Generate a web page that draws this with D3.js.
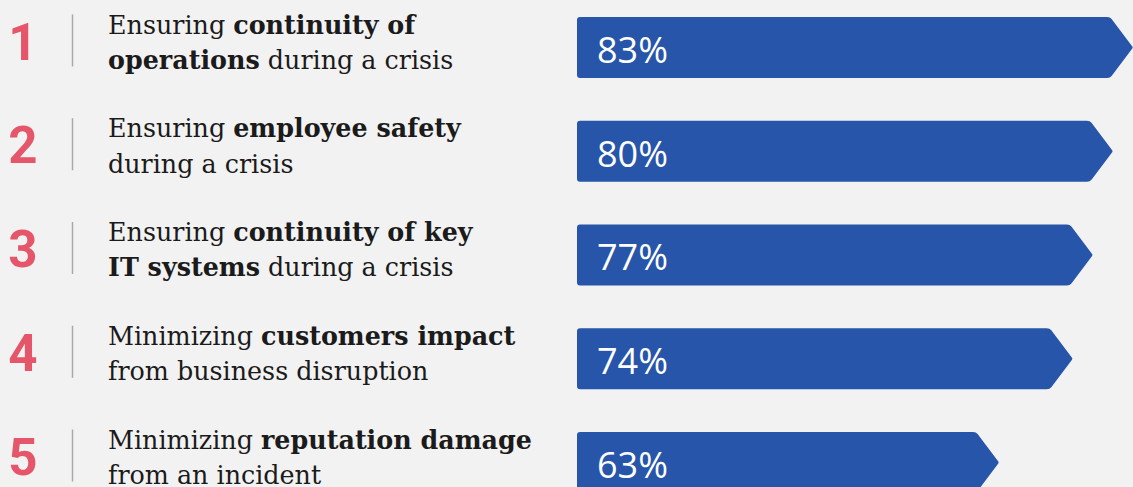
<!DOCTYPE html>
<html>
<head>
<meta charset="utf-8">
<script src="https://cdn.jsdelivr.net/npm/d3@7"></script>
<style>
  html, body { margin: 0; padding: 0; background: #f2f2f2; overflow: hidden; }
</style>
</head>
<body>
<div id="chart"></div>
<script>
const ranks = ["1", "2", "3", "4", "5"];
const labelLines = [
    ["Ensuring **continuity of**", "**operations** during a crisis"],
    ["Ensuring **employee safety**", "during a crisis"],
    ["Ensuring **continuity of key**", "**IT systems** during a crisis"],
    ["Minimizing **customers impact**", "from business disruption"],
    ["Minimizing **reputation damage**", "from an incident"]
];
const values = [83, 80, 77, 74, 63];

const width = 1133;
const height = 487;
const tip = 23;
const barColor = "#2655a9";
const rankColor = "#e5566a";

const svg = d3.select("#chart")
    .append("svg")
    .attr("width", width)
    .attr("height", height);

svg.append("rect")
    .attr("width", width)
    .attr("height", height)
    .attr("fill", "#f2f2f2");

const xScale = d3.scaleLinear()
    .domain([0, 100])
    .range([577, 1247]);

const yScale = d3.scaleBand()
    .domain(ranks)
    .range([17, 493])
    .paddingInner(0.412)
    .paddingOuter(0);

// arrow shaped bar, the point sits on the value
function arrowPath(v) {
    const x0 = xScale(0);
    const x1 = xScale(v);
    const h = yScale.bandwidth();
    const r = 3;
    const p = d3.path();
    p.moveTo(x0 + r, 0);
    p.lineTo(x1 - tip - r, 0);
    p.quadraticCurveTo(x1 - tip, 0, x1 - tip + 1.5, 2);
    p.lineTo(x1 - 1, h / 2 - 1.2);
    p.quadraticCurveTo(x1, h / 2, x1 - 1, h / 2 + 1.2);
    p.lineTo(x1 - tip + 1.5, h - 2);
    p.quadraticCurveTo(x1 - tip, h, x1 - tip - r, h);
    p.lineTo(x0 + r, h);
    p.quadraticCurveTo(x0, h, x0, h - r);
    p.lineTo(x0, r);
    p.quadraticCurveTo(x0, 0, x0 + r, 0);
    p.closePath();
    return p.toString();
}

const rows = svg.selectAll(".row")
    .data(ranks)
    .join("g")
    .attr("class", "row")
    .attr("transform", d => `translate(0,${yScale(d)})`);

rows.append("path")
    .attr("d", (d, i) => arrowPath(values[i]))
    .attr("fill", barColor);

rows.append("text")
    .attr("x", xScale(0) + 20)
    .attr("y", 46)
    .attr("fill", "#fff")
    .style("font-family", "'Open Sans', 'Noto Sans', sans-serif")
    .style("font-size", "36px")
    .text((d, i) => values[i] + "%");

// label block sits a bit above the bar centre
const mid = yScale.bandwidth() / 2 - 7;

rows.append("text")
    .attr("x", 23)
    .attr("y", mid + 19)
    .attr("text-anchor", "middle")
    .attr("fill", rankColor)
    .style("font-family", "Roboto, sans-serif")
    .style("font-weight", "700")
    .style("font-size", "51px")
    .text(d => d);

rows.append("line")
    .attr("x1", 72.5)
    .attr("x2", 72.5)
    .attr("y1", mid - 26)
    .attr("y2", mid + 26)
    .attr("stroke", "#a8a8a8")
    .attr("stroke-width", 1.5);

rows.each(function (d, i) {
    const t = d3.select(this).append("text")
        .attr("fill", "#1b1b1b")
        .style("font-family", "'DejaVu Serif', serif")
        .style("font-size", "25.4px");
    labelLines[i].forEach((line, li) => {
        const parts = line.split("**");
        parts.forEach((part, pi) => {
            if (!part) return;
            const ts = t.append("tspan")
                .style("font-weight", pi % 2 ? "700" : "400")
                .text(part);
            if (pi === 0 || (pi === 1 && parts[0] === "")) {
                ts.attr("x", 108).attr("y", li === 0 ? mid - 7 : mid + 28.5);
            }
        });
    });
});
</script>
</body>
</html>
